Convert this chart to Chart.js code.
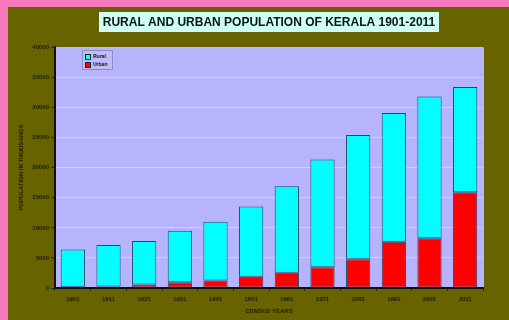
<!DOCTYPE html>
<html>
<head>
<meta charset="utf-8">
<script src="https://cdn.jsdelivr.net/npm/chart.js@4/dist/chart.umd.min.js"></script>
<style>
  html, body { margin: 0; padding: 0; background: #676400; overflow: hidden; }
  #wrap { position: relative; width: 509px; height: 320px; }
  #legend {
    position: absolute; left: 82px; top: 50px;
    padding: 1px 5px 1px 2px;
    border: 1px solid #8c8cc8; background: #bcbcff;
    font: bold 5px "Liberation Sans", Arial, sans-serif; color: #111;
    line-height: 8px;
  }
  #legend span.sw { display: inline-block; width: 4px; height: 4px; margin-right: 2px; border: 1px solid #222; vertical-align: middle; }
</style>
</head>
<body>
<div id="wrap">
  <canvas id="chart" width="509" height="320"></canvas>
  <div id="legend"></div>
</div>
<script>
"use strict";

// census years (x categories)
const years = ['1901', '1911', '1921', '1931', '1941', '1951', '1961', '1971', '1981', '1991', '2001', '2011'];
// population in thousands
const urbanValues = [200, 250, 600, 950, 1250, 1850, 2550, 3470, 4770, 7680, 8270, 15930];
const ruralValues = [6196, 6898, 7202, 8557, 9782, 11699, 14354, 17877, 20684, 21419, 23571, 17476];
const yMax = 40000;
const yStep = 5000;

(() => {
  const canvas = document.getElementById('chart');
  const tickFont = { family: '"Liberation Sans", Arial, sans-serif', size: 6, weight: 'bold' };

  // pink frame, olive page, lavender plot, title box
  const backdrop = {
    id: 'backdrop',
    beforeDraw(chart) {
      const { ctx, chartArea: a } = chart;
      ctx.save();
      ctx.fillStyle = '#f57abc';
      ctx.fillRect(0, 0, chart.width, chart.height);
      ctx.fillStyle = '#676400';
      ctx.fillRect(8, 7, chart.width - 8, chart.height - 7);
      ctx.fillStyle = '#b6b4fc';
      ctx.fillRect(a.left, a.top, a.right - a.left + 1, a.bottom - a.top);
      ctx.fillStyle = '#cffff4';
      ctx.fillRect(99, 12, 340, 20);
      ctx.restore();
    }
  };

  const myChart = new Chart(canvas, {
    type: 'bar',
    data: {
      labels: years,
      datasets: [
        {
          label: 'Urban',
          data: urbanValues,
          backgroundColor: '#ff0000',
          borderColor: '#1d4a6a',
          borderWidth: 1,
          borderSkipped: false,
          barPercentage: 0.68,
          categoryPercentage: 1
        },
        {
          label: 'Rural',
          data: ruralValues,
          backgroundColor: '#00ffff',
          borderColor: '#1d4a6a',
          borderWidth: 1,
          borderSkipped: false,
          barPercentage: 0.68,
          categoryPercentage: 1
        }
      ]
    },
    options: {
      responsive: false,
      animation: false,
      layout: { padding: { left: 10, right: 26, top: 0, bottom: 0 } },
      plugins: {
        legend: { display: false },
        tooltip: { enabled: false },
        title: {
          display: true,
          fullSize: false,
          text: 'RURAL AND URBAN POPULATION OF KERALA 1901-2011',
          color: '#06180c',
          font: { family: '"Liberation Sans", Arial, sans-serif', size: 12, weight: 'bold' },
          padding: { top: 15, bottom: 18 }
        }
      },
      scales: {
        x: {
          stacked: true,
          afterFit(scale) { scale.height = 32; },
          grid: { display: true, drawOnChartArea: false, tickLength: 3, tickColor: '#2a2a00' },
          border: { color: '#111', width: 2 },
          ticks: { color: '#1a1a00', font: tickFont, padding: 5, maxRotation: 0 },
          title: {
            display: true, text: 'CENSUS YEARS', color: '#1a1a00',
            font: tickFont, padding: { top: 0, bottom: 5 }
          }
        },
        y: {
          stacked: true,
          min: 0,
          max: yMax,
          afterFit(scale) { scale.width = 45; },
          grid: { color: 'rgba(235,235,255,0.5)', tickLength: 4, tickColor: '#2a2a00' },
          border: { color: '#111', width: 2 },
          ticks: {
            stepSize: yStep,
            color: '#1a1a00',
            font: tickFont,
            padding: 2,
            callback: v => String(v)
          },
          title: {
            display: true, text: 'POPULATION IN THOUSANDS', color: '#1a1a00',
            font: tickFont, padding: { top: 8, bottom: 0 }
          }
        }
      }
    },
    plugins: [backdrop]
  });

  // legend box inside the plot, Rural listed first
  const legend = document.getElementById('legend');
  [...myChart.data.datasets].reverse().forEach(ds => {
    const row = document.createElement('div');
    const sw = document.createElement('span');
    sw.className = 'sw';
    sw.style.background = ds.backgroundColor;
    row.appendChild(sw);
    row.appendChild(document.createTextNode(ds.label));
    legend.appendChild(row);
  });
})();
</script>
</body>
</html>
